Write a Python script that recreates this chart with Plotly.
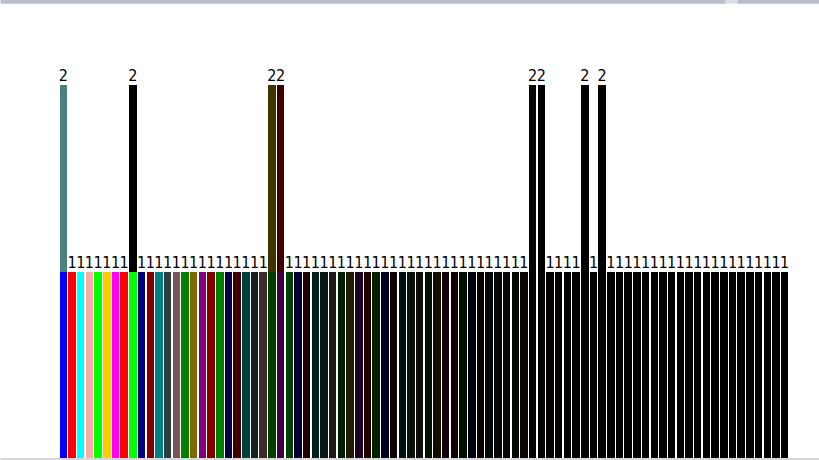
import plotly.graph_objects as go

categories = [f"C{i}" for i in range(1, 85)]

totals = [2, 1, 1, 1, 1, 1, 1, 1, 2, 1,
          1, 1, 1, 1, 1, 1, 1, 1, 1, 1,
          1, 1, 1, 1, 2, 2, 1, 1, 1, 1,
          1, 1, 1, 1, 1, 1, 1, 1, 1, 1,
          1, 1, 1, 1, 1, 1, 1, 1, 1, 1,
          1, 1, 1, 1, 2, 2, 1, 1, 1, 1,
          2, 1, 2, 1, 1, 1, 1, 1, 1, 1,
          1, 1, 1, 1, 1, 1, 1, 1, 1, 1,
          1, 1, 1, 1]

base_colors = [
    "#0000ff", "#ff0000", "#00ffff", "#ffaaaa", "#00ff00", "#ffcc00", "#ff00ff", "#ff0000", "#00ff00", "#000080",
    "#800000", "#008080", "#2a4040", "#7a5555", "#008000", "#806600", "#800080", "#800000", "#008000", "#000040",
    "#400000", "#004040", "#152020", "#402a2a", "#004000", "#400040", "#004000", "#000030", "#200000", "#002020",
    "#0a1515", "#201a1a", "#002000", "#201a00", "#200020", "#200000", "#002000", "#000020", "#100000", "#001010",
    "#0a100a", "#100d0d", "#001000", "#100d00", "#100010", "#100000", "#001000", "#000010", "#080000", "#000808",
    "#050808", "#080606", "#000800", "#080600", "#080008", "#000400", "#040000", "#000000", "#020202", "#000000",
    "#000000", "#020000", "#000000", "#000000", "#000000", "#000000", "#000000", "#000000", "#000000", "#000000",
    "#000000", "#000000", "#000000", "#000000", "#000000", "#000000", "#000000", "#000000", "#000000", "#000000",
    "#000000", "#000000", "#000000", "#000000",
]

top_colors = {
    "C1": "#4a8080", "C9": "#000000", "C25": "#403300", "C26": "#400000",
    "C55": "#0a0505", "C56": "#000000", "C61": "#000000", "C63": "#000000",
}

base_vals = [min(t, 1) for t in totals]
top_vals = [t - 1 for t in totals]
top_cols = [top_colors.get(c, "#000000") for c in categories]

fig = go.Figure()
fig.add_trace(go.Bar(x=categories, y=base_vals, marker=dict(color=base_colors, line=dict(width=0)),
                     hoverinfo="skip", showlegend=False))
fig.add_trace(go.Bar(x=categories, y=top_vals, marker=dict(color=top_cols, line=dict(width=0)),
                     hoverinfo="skip", showlegend=False))
fig.add_trace(go.Scatter(x=categories, y=totals, mode="text", text=[str(t) for t in totals],
                         textposition="top center",
                         textfont=dict(family="Liberation Sans Narrow, DejaVu Sans Condensed, Liberation Sans", size=16, color="#000000"),
                         hoverinfo="skip", showlegend=False))

fig.update_layout(
    width=819, height=460,
    margin=dict(l=59, r=30, t=48, b=2),
    barmode="stack", bargap=0.14,
    paper_bgcolor="#ffffff", plot_bgcolor="#ffffff",
    xaxis=dict(visible=False, range=[-0.5, 83.5]),
    yaxis=dict(visible=False, range=[0, 2.2]),
    shapes=[
        dict(type="rect", xref="paper", yref="paper", x0=-0.08, x1=0.913, y0=1.108, y1=1.125,
             fillcolor="#b8bccb", line=dict(width=0)),
        dict(type="rect", xref="paper", yref="paper", x0=0.913, x1=0.93, y0=1.108, y1=1.125,
             fillcolor="#dcdee6", line=dict(width=0)),
        dict(type="rect", xref="paper", yref="paper", x0=0.93, x1=1.05, y0=1.108, y1=1.125,
             fillcolor="#b8bccb", line=dict(width=0)),
        dict(type="rect", xref="paper", yref="paper", x0=-0.08, x1=1.05, y0=-0.0049, y1=0.0,
             fillcolor="#d8d8d8", line=dict(width=0), layer="above"),
    ],
)

fig.write_html("out.html")
